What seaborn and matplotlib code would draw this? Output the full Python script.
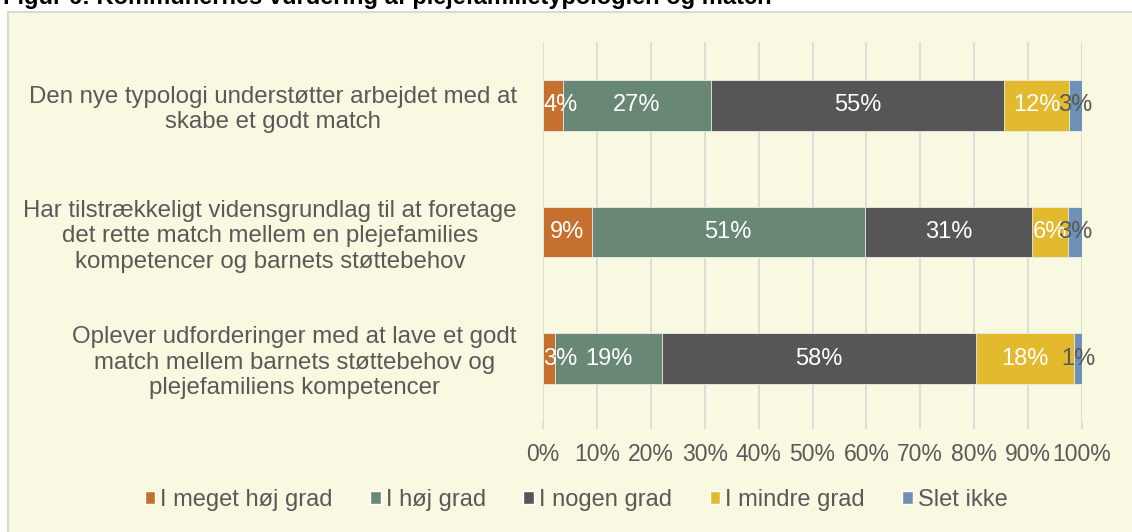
import numpy as np
import pandas as pd
import seaborn as sns
import matplotlib.pyplot as plt
from matplotlib.patches import Patch, Rectangle

categories = [
    "Den nye typologi understøtter arbejdet med at\nskabe et godt match",
    "Har tilstrækkeligt vidensgrundlag til at foretage\ndet rette match mellem en plejefamilies\nkompetencer og barnets støttebehov",
    "Oplever udforderinger med at lave et godt\nmatch mellem barnets støttebehov og\nplejefamiliens kompetencer",
]
series = ["I meget høj grad", "I høj grad", "I nogen grad", "I mindre grad", "Slet ikke"]

# bredder af segmenterne (andele i %)
meget_hoj = [3.8, 9.0, 2.3]
hoj = [27.3, 50.7, 19.7]
nogen = [54.5, 31.1, 58.4]
mindre = [11.9, 6.6, 18.1]
slet_ikke = [2.5, 2.6, 1.5]

# datalabels som vist i figuren
lbl_meget_hoj = [4, 9, 3]
lbl_hoj = [27, 51, 19]
lbl_nogen = [55, 31, 58]
lbl_mindre = [12, 6, 18]
lbl_slet_ikke = [3, 3, 1]

xticks = list(range(0, 101, 10))

colors = ["#C5702F", "#698775", "#565656", "#E3BA2E", "#6E91B5"]
label_colors = ["white", "white", "white", "white", "#595959"]
txt = "#595959"

df = pd.DataFrame({"kategori": categories,
                   series[0]: meget_hoj, series[1]: hoj, series[2]: nogen,
                   series[3]: mindre, series[4]: slet_ikke})
labels = pd.DataFrame({series[0]: lbl_meget_hoj, series[1]: lbl_hoj, series[2]: lbl_nogen,
                       series[3]: lbl_mindre, series[4]: lbl_slet_ikke})
cum = df[series].cumsum(axis=1)
cum["kategori"] = categories

sns.set_theme(style="white")
plt.rcParams['font.family'] = ['Liberation Sans', 'DejaVu Sans']

fig = plt.figure(figsize=(11.32, 5.32), dpi=100)
fig.patch.set_facecolor("white")
fig.add_artist(Rectangle((8/1132, -0.05), 1.0, 1 - 12/532 + 0.05, transform=fig.transFigure,
                         facecolor="#F9F8E1", edgecolor="#D9D9D9", lw=1.5, zorder=0))
fig.text(3/1132, 1 - 4/532, "Figur 6: Kommunernes vurdering af plejefamilietypologien og match",
         fontweight="bold", fontsize=17, va="baseline", ha="left", color="black")

ax = fig.add_axes([543/1132, 1 - 422/532, (1082 - 543)/1132, 380/532])
ax.set_facecolor("none")

# stablede bjælker: tegn kumulerede summer fra højeste til laveste
for s, c in reversed(list(zip(series, colors))):
    sns.barplot(data=cum, x=s, y="kategori", color=c, orient="h", width=0.4, saturation=1,
                errorbar=None, ax=ax, edgecolor="#EDEDED", linewidth=0.6, zorder=2)

# datalabels
for i, s in enumerate(series):
    for j in range(len(categories)):
        v = df[s].iloc[j]
        left = cum[s].iloc[j] - v
        if i == 0 and v < 5:
            ax.text(left, j, f"{labels[s].iloc[j]}%", ha="left", va="center",
                    color=label_colors[i], fontsize=17, zorder=3)
        else:
            ax.text(left + v / 2, j, f"{labels[s].iloc[j]}%", ha="center", va="center",
                    color=label_colors[i], fontsize=17, zorder=3)

ax.set_xlim(0, 100)
ax.set_xticks(xticks)
ax.set_xticklabels([f"{t}%" for t in xticks])
ax.xaxis.grid(True, color="#D9D9D9", lw=1.3, zorder=0)
ax.set_axisbelow(True)
for sp in ax.spines.values():
    sp.set_visible(False)
ax.set_xlabel("")
ax.set_ylabel("")
ax.tick_params(axis="x", length=5, color="#D9D9D9", width=1.3, pad=10,
               labelsize=16.5, labelcolor=txt, bottom=True)
ax.tick_params(axis="y", length=0, pad=19, labelsize=17.3, labelcolor=txt)
for t in ax.get_yticklabels():
    t.set_multialignment("center")

handles = [Patch(facecolor=c, label=s) for s, c in zip(series, colors)]
fig.legend(handles=handles, loc="center", bbox_to_anchor=(576/1132, 1 - 500/532), ncol=5,
           frameon=False, fontsize=17, handlelength=0.45, handleheight=0.45,
           handletextpad=0.2, columnspacing=1.6, labelcolor=txt)

fig.savefig("out.png", dpi=100)
